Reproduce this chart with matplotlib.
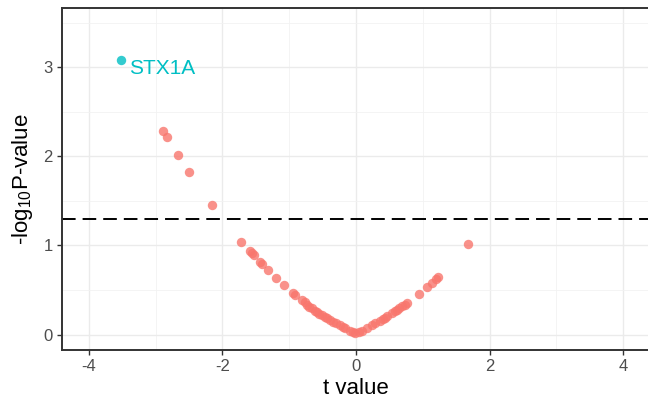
import matplotlib.pyplot as plt
import numpy as np

plt.rcParams['font.family'] = ['Liberation Sans', 'DejaVu Sans']
plt.rcParams['mathtext.fontset'] = 'custom'
plt.rcParams['mathtext.rm'] = 'Liberation Sans'
plt.rcParams['axes.unicode_minus'] = False

# t statistics and -log10 p-values per gene
t_values = [-3.515, -2.89, -2.83, -2.66, -2.50, -2.15, -1.72, -1.59, -1.56, -1.53,
            -1.44, -1.41, -1.32, -1.20, -1.085, -0.945, -0.91, -0.81, -0.77, -0.735,
            -0.70, -0.66, -0.62, -0.585, -0.55, -0.51, -0.47, -0.435, -0.39, -0.34,
            -0.30, -0.24, -0.20, -0.16, -0.09, -0.05, -0.012,
            0.04, 0.088, 0.163, 0.24, 0.29, 0.36, 0.40, 0.44, 0.47, 0.54, 0.58, 0.61,
            0.65, 0.69, 0.73, 0.76, 0.94, 1.06, 1.14, 1.19, 1.23, 1.68]
neg_log_p = [3.083, 2.28, 2.215, 2.01, 1.82, 1.45, 1.04, 0.94, 0.91, 0.89,
             0.82, 0.79, 0.72, 0.63, 0.56, 0.47, 0.445, 0.385, 0.36, 0.335,
             0.315, 0.295, 0.27, 0.255, 0.235, 0.22, 0.20, 0.185, 0.165, 0.145,
             0.13, 0.105, 0.09, 0.07, 0.045, 0.03, 0.016,
             0.025, 0.045, 0.072, 0.105, 0.125, 0.155, 0.17, 0.19, 0.205, 0.24, 0.26, 0.28,
             0.30, 0.32, 0.335, 0.35, 0.45, 0.53, 0.58, 0.62, 0.65, 1.02]
highlight = ['STX1A'] + [''] * (len(t_values) - 1)
threshold = -np.log10(0.05)

t_values = np.array(t_values)
neg_log_p = np.array(neg_log_p)
is_hit = np.array([h != '' for h in highlight])

fig = plt.figure(figsize=(6.48, 4.08), dpi=100)
ax = fig.add_axes([62 / 648, 58 / 408, 588 / 648, 342.5 / 408])

ax.set_xlim(-4.4, 4.4)
ax.set_ylim(-0.173, 3.67)

# ggplot-like grid
ax.set_xticks([-4, -2, 0, 2, 4])
ax.set_xticks([-3, -1, 1, 3], minor=True)
ax.set_yticks([0, 1, 2, 3])
ax.set_yticks([0.5, 1.5, 2.5, 3.5], minor=True)
ax.grid(which='major', color='#EBEBEB', linewidth=1.0)
ax.grid(which='minor', color='#F2F2F2', linewidth=0.6)
ax.set_axisbelow(True)
ax.tick_params(which='minor', length=0)
ax.tick_params(which='major', length=3.5, width=1.0, color='#333333',
               labelsize=12, labelcolor='#4D4D4D', pad=3)
for side in ax.spines.values():
    side.set_color('#333333')
    side.set_linewidth(1.4)

ax.scatter(t_values[~is_hit], neg_log_p[~is_hit], s=46, color='#F8766D',
           alpha=0.8, linewidths=0, zorder=3)
ax.scatter(t_values[is_hit], neg_log_p[is_hit], s=46, color='#00BFC4',
           alpha=0.8, linewidths=0, zorder=3)

for x, y, name in zip(t_values, neg_log_p, highlight):
    if name:
        ax.text(x + 0.12, y - 0.1, name, color='#00BFC4', fontsize=15,
                ha='left', va='center', zorder=4)

hl = ax.axhline(threshold, color='black', linewidth=1.4, zorder=2)
hl.set_dashes([7, 3.6])

ax.set_xlabel('t value', fontsize=16, labelpad=3)
ax.set_ylabel(r'-log$_{10}$P-value', fontsize=16, labelpad=6)

fig.savefig('out.png', dpi=100)
